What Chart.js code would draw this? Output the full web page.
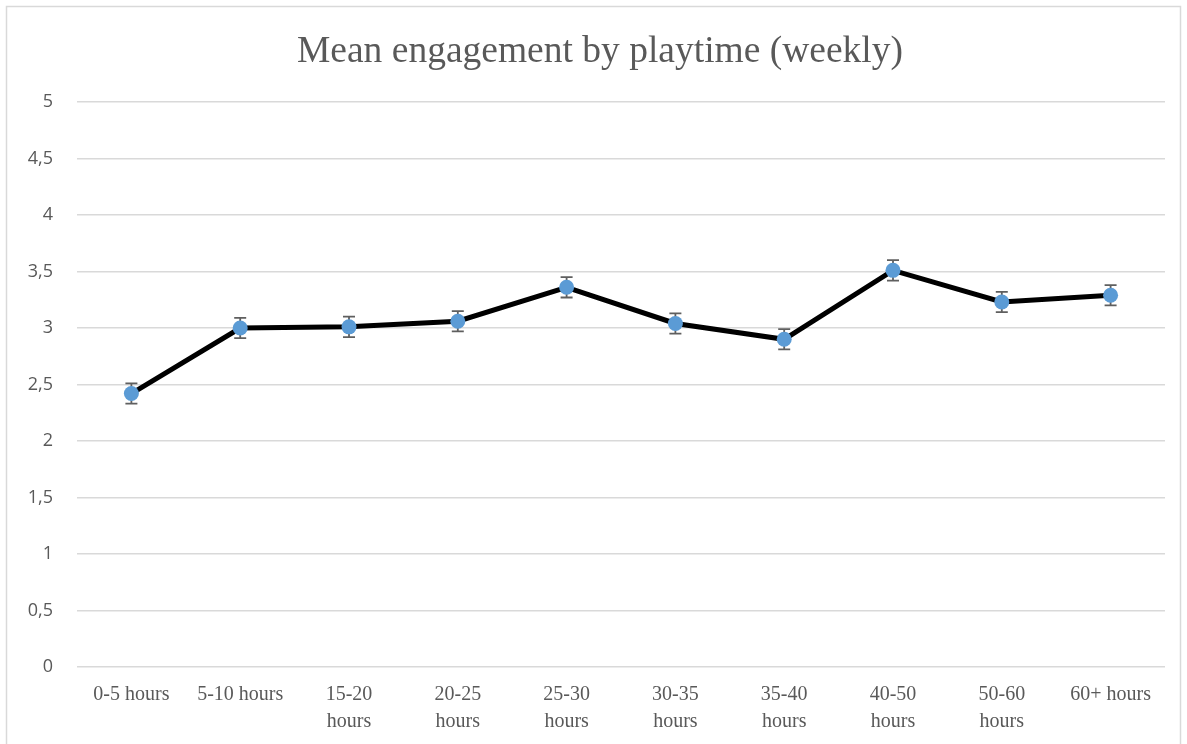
<!DOCTYPE html>
<html>
<head>
<meta charset="utf-8">
<script src="https://cdn.jsdelivr.net/npm/chart.js@4"></script>
<style>
  body { margin: 0; background: #fff; }
  #wrap { width: 1187px; height: 744px; }
</style>
</head>
<body>
<div id="wrap"><canvas id="canvas" width="1187" height="744"></canvas></div>
<script>
// categories on the x axis
const categories = [
  '0-5 hours', '5-10 hours', ['15-20', 'hours'], ['20-25', 'hours'], ['25-30', 'hours'],
  ['30-35', 'hours'], ['35-40', 'hours'], ['40-50', 'hours'], ['50-60', 'hours'], '60+ hours'
];
// mean engagement per group
const meanValues = [2.42, 3.00, 3.01, 3.06, 3.36, 3.04, 2.90, 3.51, 3.23, 3.29];
// error bar half-size per group
const errorValues = [0.09, 0.09, 0.09, 0.09, 0.09, 0.09, 0.09, 0.09, 0.09, 0.09];

const titleText = 'Mean engagement by playtime (weekly)';
const grey = '#595959';

// white background, outer frame and the title centred on the frame
const framePlugin = {
  id: 'frame',
  beforeDraw(chart) {
    const ctx = chart.ctx;
    ctx.save();
    ctx.fillStyle = '#fff';
    ctx.fillRect(0, 0, chart.width, chart.height);
    ctx.strokeStyle = '#d9d9d9';
    ctx.lineWidth = 1.5;
    ctx.strokeRect(6.5, 6.5, 1174, 745);
    ctx.fillStyle = grey;
    ctx.font = '37.5px "Liberation Serif"';
    ctx.textAlign = 'center';
    ctx.textBaseline = 'middle';
    ctx.fillText(titleText, 600, 52);
    ctx.restore();
  }
};

// error bars drawn under the line and points
const errorBarPlugin = {
  id: 'errorBars',
  beforeDatasetsDraw(chart) {
    const ctx = chart.ctx;
    const meta = chart.getDatasetMeta(0);
    const y = chart.scales.y;
    ctx.save();
    ctx.strokeStyle = '#5f5f5f';
    ctx.lineWidth = 1.8;
    meta.data.forEach((pt, i) => {
      const top = y.getPixelForValue(meanValues[i] + errorValues[i]);
      const bot = y.getPixelForValue(meanValues[i] - errorValues[i]);
      ctx.beginPath();
      ctx.moveTo(pt.x, top); ctx.lineTo(pt.x, bot);
      ctx.moveTo(pt.x - 6, top); ctx.lineTo(pt.x + 6, top);
      ctx.moveTo(pt.x - 6, bot); ctx.lineTo(pt.x + 6, bot);
      ctx.stroke();
    });
    ctx.restore();
  }
};

new Chart(document.getElementById('canvas'), {
  type: 'line',
  data: {
    labels: categories,
    datasets: [{
      label: 'Mean engagement',
      data: meanValues,
      borderColor: '#000',
      borderWidth: 5,
      pointBackgroundColor: '#5b9bd5',
      pointBorderColor: '#5b9bd5',
      pointRadius: 7.5,
      pointBorderWidth: 0,
      tension: 0
    }]
  },
  options: {
    responsive: false,
    animation: false,
    // top padding leaves room for the title drawn by the frame plugin
    layout: { padding: { left: 0, right: 22, top: 102, bottom: 0 } },
    plugins: {
      legend: { display: false },
      tooltip: { enabled: false },
      title: { display: false }
    },
    scales: {
      x: {
        offset: true,
        grid: { display: false },
        border: { display: false },
        ticks: {
          color: grey,
          padding: 6,
          maxRotation: 0,
          autoSkip: false,
          font: { family: 'Liberation Serif', size: 20, lineHeight: 1.35 }
        },
        afterFit(scale) { scale.height = 77; }
      },
      y: {
        min: 0,
        max: 5,
        grid: { color: '#d9d9d9', lineWidth: 1.5, drawTicks: false },
        border: { display: false },
        ticks: {
          stepSize: 0.5,
          color: grey,
          padding: 24,
          font: { family: 'Open Sans', size: 18 },
          callback: v => String(v).replace('.', ',')
        },
        afterFit(scale) { scale.width = 77; }
      }
    }
  },
  plugins: [framePlugin, errorBarPlugin]
});
</script>
</body>
</html>
